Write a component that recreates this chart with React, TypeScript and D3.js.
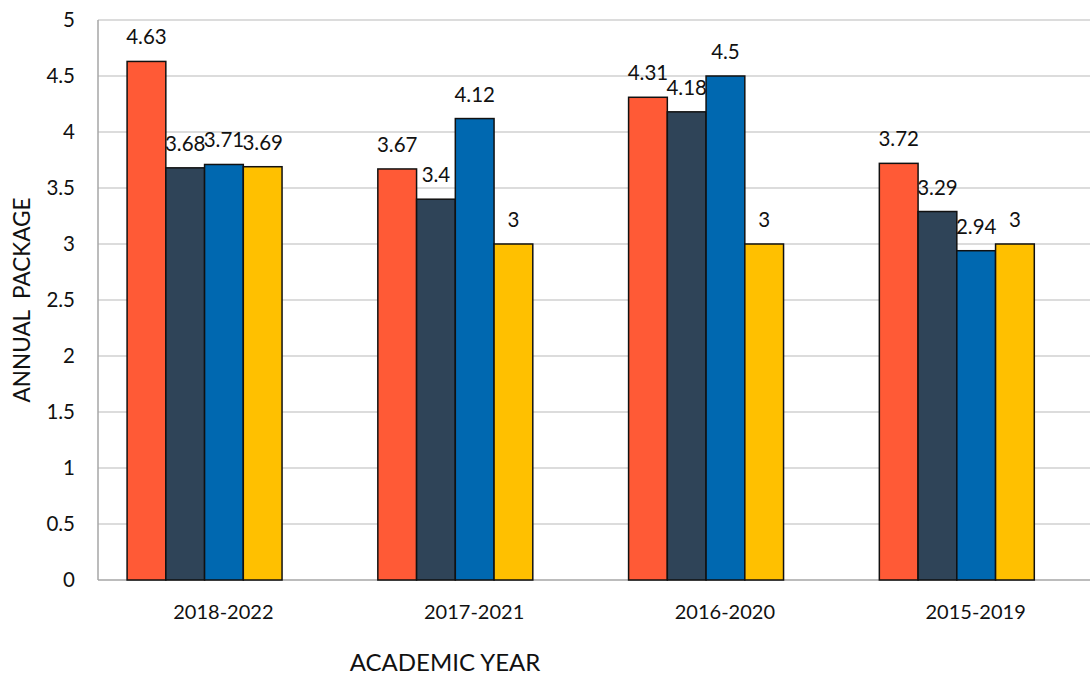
import React from 'react';
import * as d3 from 'd3';

const categories = ['2018-2022', '2017-2021', '2016-2020', '2015-2019'];
const seriesNames = ['s1', 's2', 's3', 's4'];
const seriesColors = ['#FF5A36', '#2F4458', '#0068B0', '#FFC000'];
const values: number[][] = [
  [4.63, 3.68, 3.71, 3.69],
  [3.67, 3.4, 4.12, 3],
  [4.31, 4.18, 4.5, 3],
  [3.72, 3.29, 2.94, 3],
];
const yTicks = [0, 0.5, 1, 1.5, 2, 2.5, 3, 3.5, 4, 4.5, 5];

const width = 1090;
const height = 675;
const margin = { top: 20, left: 98, bottom: 95 };
const plotRight = 1101;
const fontFamily = 'Lato, "Open Sans", sans-serif';

export default function App() {
  const y = d3.scaleLinear().domain([0, 5]).range([height - margin.bottom, margin.top]);
  const x = d3.scaleBand<string>().domain(categories).range([margin.left, plotRight]).padding(0);
  const bw = x.bandwidth();
  const inner = d3
    .scaleBand<string>()
    .domain(seriesNames)
    .range([bw * 0.116, bw * 0.116 + bw * 0.618])
    .padding(0);
  const y0 = y(0);

  return (
    <svg width={width} height={height} style={{ position: 'absolute', left: 0, top: 0, fontFamily }}>
      <rect width={width} height={height} fill="#fff" />
      {/* grid */}
      {yTicks.filter(t => t > 0).map(t => (
        <line key={t} x1={margin.left} x2={width} y1={y(t)} y2={y(t)} stroke="#d0d0d0" strokeWidth={1.5} />
      ))}
      {/* axes */}
      <line x1={margin.left} x2={margin.left} y1={margin.top} y2={y0} stroke="#a6a6a6" strokeWidth={1.5} />
      <line x1={margin.left} x2={width} y1={y0} y2={y0} stroke="#a6a6a6" strokeWidth={1.5} />
      {yTicks.map(t => (
        <text key={t} x={75} y={y(t)} dy="0.35em" textAnchor="end" fontSize={20.5} fill="#111">
          {t}
        </text>
      ))}
      {/* bars */}
      {categories.map((c, ci) => (
        <g key={c} transform={`translate(${x(c)},0)`}>
          {values[ci].map((v, si) => (
            <rect
              key={si}
              x={inner(seriesNames[si])}
              y={y(v)}
              width={inner.bandwidth()}
              height={y0 - y(v)}
              fill={seriesColors[si]}
              stroke="#111"
              strokeWidth={1.5}
            />
          ))}
          {values[ci].map((v, si) => (
            <text
              key={'l' + si}
              x={(inner(seriesNames[si]) ?? 0) + inner.bandwidth() / 2}
              y={y(v) - 17}
              textAnchor="middle"
              fontSize={20.5}
              fill="#111"
            >
              {v}
            </text>
          ))}
          <text x={bw / 2} y={619} textAnchor="middle" fontSize={20} fill="#111">
            {c}
          </text>
        </g>
      ))}
      <text
        transform={`translate(30,${(margin.top + y0) / 2}) rotate(-90)`}
        textAnchor="middle"
        fontSize={22.5}
        fill="#111"
        style={{ whiteSpace: 'pre' }}
      >
        {'ANNUAL  PACKAGE'}
      </text>
      <text x={445} y={671} textAnchor="middle" fontSize={24} fill="#111">
        ACADEMIC YEAR
      </text>
    </svg>
  );
}
